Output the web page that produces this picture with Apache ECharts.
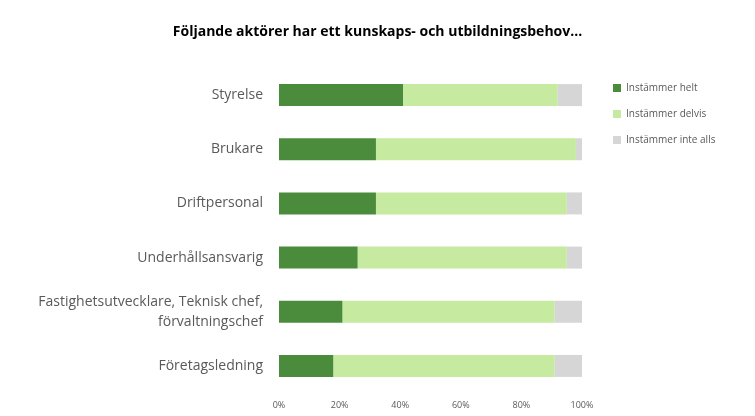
<!DOCTYPE html>
<html><head><meta charset="utf-8">
<script src="https://cdn.jsdelivr.net/npm/echarts@6/dist/echarts.min.js"></script>
<style>html,body{margin:0;background:#fff}#c{width:755px;height:416px}</style>
</head><body><div id="c"></div>
<script>
const categories = ["Styrelse","Brukare","Driftpersonal","Underhållsansvarig","Fastighetsutvecklare, Teknisk chef,\nförvaltningschef","Företagsledning"];
const helt = [41,32,32,26,21,18];
const delvis = [51,66,63,69,70,73];
const inte = [8,2,5,5,9,9];
const seriesNames = ["Instämmer helt","Instämmer delvis","Instämmer inte alls"];
const colors = ["#4a8c3c","#c5eaa0","#d6d6d6"];
const chart = echarts.init(document.getElementById('c'));
chart.setOption({
  animation:false,
  title:{text:"Följande aktörer har ett kunskaps- och utbildningsbehov...",left:'center',top:20,
    textStyle:{fontFamily:'Open Sans',fontSize:14,fontWeight:'bold',color:'#000'}},
  legend:{orient:'vertical',left:608,top:78,itemGap:16,itemWidth:8,itemHeight:8,icon:'rect',
    textStyle:{fontFamily:'Open Sans',fontSize:10,color:'#595959'}},
  grid:{left:279,right:173,top:68,bottom:23},
  xAxis:{type:'value',min:0,max:100,interval:20,axisLabel:{formatter:'{value}%',fontFamily:'Open Sans',fontSize:9,color:'#595959'},
    splitLine:{show:false},axisLine:{show:false},axisTick:{show:false}},
  yAxis:{type:'category',inverse:true,data:categories,axisLine:{show:false},axisTick:{show:false},
    axisLabel:{fontFamily:'Open Sans',fontSize:14,color:'#595959',margin:16,lineHeight:20}},
  series:[helt,delvis,inte].map((d,i)=>({name:seriesNames[i],type:'bar',stack:'a',data:d,barWidth:22,itemStyle:{color:colors[i]}}))
});
</script></body></html>
